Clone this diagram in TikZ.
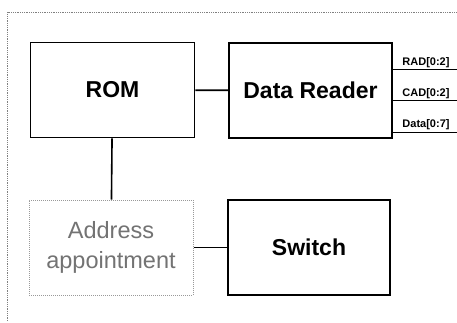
\documentclass[tikz,border=0pt]{standalone}
\usepackage{fontspec}
\setmainfont{Liberation Sans}
\usetikzlibrary{calc}
\begin{document}
\begin{tikzpicture}[x=1pt,y=-1pt,
  blockbox/.style={draw=black,line width=1.6pt,minimum width=164pt,minimum height=95pt,inner sep=0pt,font=\fontsize{23}{26}\selectfont\bfseries},
  graybox/.style={draw=gray!80,line width=1pt,densely dotted,minimum width=164pt,minimum height=95pt,inner sep=0pt,text=black!55,align=center,font=\fontsize{23.5}{30}\selectfont},
  conn/.style={line width=1.6pt},
  sig/.style={line width=0.9pt},
  siglabel/.style={font=\fontsize{11}{12}\selectfont\bfseries,anchor=base,inner sep=0pt},
  frame/.style={draw=gray,line width=0.8pt,densely dotted}]
\useasboundingbox (0,0) rectangle (457,322);
\fill[white] (0,0) rectangle (457,322);
\draw[frame] (7,321) -- (7,12) -- (457,12);
\node[blockbox] (rom) at (112.5,90) {ROM};
\node[blockbox,minimum width=163pt] (dr) at (310.5,90.5) {Data Reader};
\node[graybox] (addr) at (111,247.5) {Address\\appointment};
\node[blockbox,minimum width=162pt] (sw) at (309,247.5) {Switch};
\draw[conn] (rom) -- (dr);
\draw[conn] (rom) -- (addr);
\draw[conn] (addr) -- (sw);
\coordinate (o1) at (457,69);
\coordinate (o2) at (457,100);
\coordinate (o3) at (457,132);
\draw[sig] (o1 -| dr.east) -- (o1);
\draw[sig] (o2 -| dr.east) -- (o2);
\draw[sig] (o3 -| dr.east) -- (o3);
\node[siglabel] (l1) at (426,65) {RAD[0:2]};
\node[siglabel] (l2) at (426,96) {CAD[0:2]};
\node[siglabel] (l3) at (426,127) {Data[0:7]};
\end{tikzpicture}
\end{document}
